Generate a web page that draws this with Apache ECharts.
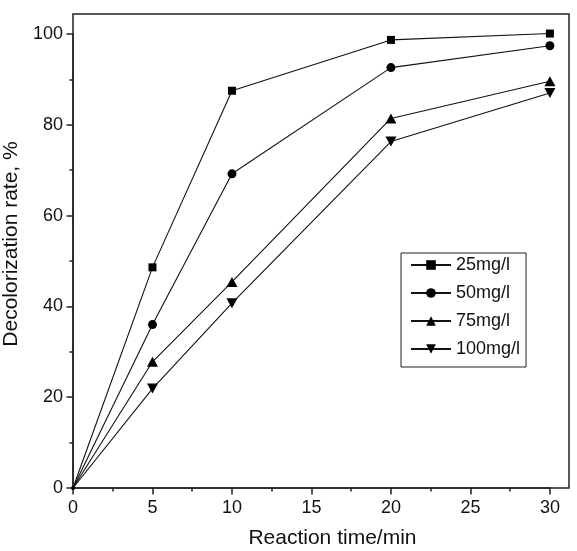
<!DOCTYPE html>
<html>
<head>
<meta charset="utf-8">
<script src="https://cdn.jsdelivr.net/npm/echarts@6/dist/echarts.min.js"></script>
<style>
html,body{margin:0;padding:0;background:#fff;}
#chart{width:577px;height:551px;}
</style>
</head>
<body>
<div id="chart"></div>
<script>
const times = [0, 5, 10, 20, 30];
const s25 = [0, 48.6, 87.5, 98.7, 100.1];
const s50 = [0, 36.0, 69.2, 92.6, 97.4];
const s75 = [0, 27.8, 45.4, 81.4, 89.6];
const s100 = [0, 21.9, 40.7, 76.3, 87.0];
const seriesNames = ['25mg/l', '50mg/l', '75mg/l', '100mg/l'];

const font = 'Liberation Sans, Arial, Helvetica, sans-serif';
const ink = '#111';
const axisColor = '#222';

function pairs(vals) { return times.map((t, i) => [t, vals[i]]); }

const symbols = [
  {symbol: 'rect', size: 8},
  {symbol: 'circle', size: 9},
  {symbol: 'triangle', size: [11, 10]},
  {symbol: 'path://M0,0 L10,0 L5,10 Z', size: [11, 10]}
];
const allData = [s25, s50, s75, s100];

const hiddenAxis = (gi) => ({
  type: 'value', gridIndex: gi, min: 0, max: 1, show: false,
  axisLine: {show: false}, axisTick: {show: false}, axisLabel: {show: false}, splitLine: {show: false}
});

const chart = echarts.init(document.getElementById('chart'), null, {renderer: 'canvas'});
chart.setOption({
  animation: false,
  backgroundColor: '#fff',
  grid: [
    {left: 73, right: 27.1, top: 34, bottom: 63, show: false, containLabel: false, outerBoundsMode: 'none'},
    {left: 73, right: 8, top: 14, bottom: 63, show: true, borderColor: axisColor, borderWidth: 1.5,
     backgroundColor: 'transparent', containLabel: false, outerBoundsMode: 'none', z: 0}
  ],
  legend: {
    left: 401, top: 253, orient: 'vertical',
    data: seriesNames,
    itemWidth: 40, itemHeight: 12, itemGap: 10,
    padding: [3, 6, 9, 9],
    borderColor: axisColor, borderWidth: 1,
    textStyle: {fontFamily: font, fontSize: 18, color: ink},
    itemStyle: {color: '#000'}
  },
  xAxis: [{
    type: 'value', gridIndex: 0, min: 0, max: 30, interval: 5, position: 'bottom',
    name: 'Reaction time/min', nameLocation: 'middle', nameGap: 40,
    nameTextStyle: {fontFamily: font, fontSize: 21, color: ink, padding: [0, 0, 0, 42]},
    axisLine: {show: true, onZero: false, lineStyle: {color: axisColor, width: 1.5}},
    axisTick: {show: true, inside: false, length: 6.5, lineStyle: {color: axisColor, width: 1.5}},
    minorTick: {show: true, splitNumber: 2, length: 3.5, lineStyle: {color: axisColor, width: 1.5}},
    axisLabel: {show: true, margin: 11, fontFamily: font, fontSize: 18, color: ink},
    splitLine: {show: false}
  }, hiddenAxis(1)],
  yAxis: [{
    type: 'value', gridIndex: 0, min: 0, max: 100, interval: 20, position: 'left',
    name: 'Decolorization rate, %', nameLocation: 'middle', nameGap: 41, nameRotate: 90,
    nameTextStyle: {fontFamily: font, fontSize: 21, color: ink, padding: [0, 0, 0, 34]},
    axisLine: {show: true, onZero: false, lineStyle: {color: axisColor, width: 1.5}},
    axisTick: {show: true, inside: false, length: 6.5, lineStyle: {color: axisColor, width: 1.5}},
    minorTick: {show: true, splitNumber: 2, length: 3.5, lineStyle: {color: axisColor, width: 1.5}},
    axisLabel: {show: true, margin: 10, fontFamily: font, fontSize: 18, color: ink},
    splitLine: {show: false}
  }, hiddenAxis(1)],
  series: seriesNames.map((name, i) => ({
    name: name,
    type: 'line',
    xAxisIndex: 0, yAxisIndex: 0,
    data: pairs(allData[i]),
    symbol: symbols[i].symbol,
    symbolSize: (v) => v[0] === 0 ? 3 : symbols[i].size,
    showAllSymbol: true,
    clip: false,
    lineStyle: {color: '#111', width: 1.1},
    itemStyle: {color: '#000', borderWidth: 0},
    z: 3
  }))
});
</script>
</body>
</html>
